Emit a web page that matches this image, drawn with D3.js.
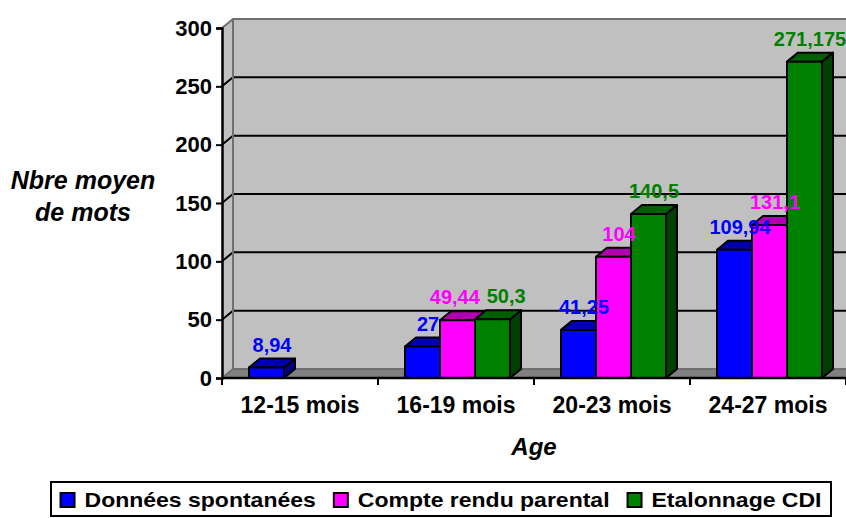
<!DOCTYPE html>
<html>
<head>
<meta charset="utf-8">
<script src="https://cdn.jsdelivr.net/npm/d3@7/dist/d3.min.js"></script>
<style>
  body { margin: 0; background: #fff; }
  svg { display: block; font-family: "Liberation Sans", Arial, sans-serif; font-weight: bold; }
</style>
</head>
<body>
<svg id="chart" width="846" height="518"></svg>
<script>
// chart data
var categories = ['12-15 mois', '16-19 mois', '20-23 mois', '24-27 mois'];
var seriesNames = ['Données spontanées', 'Compte rendu parental', 'Etalonnage CDI'];
var donneesSpontanees = [8.94, 27, 41.25, 109.94];
var compteRendu = [null, 49.44, 104, 131.1];
var etalonnage = [null, 50.3, 140.5, 271.175];
var yTicks = [0, 50, 100, 150, 200, 250, 300];

var seriesValues = [donneesSpontanees, compteRendu, etalonnage];
// front, top, side
var seriesColors = [
    ['#0000ff', '#0000b0', '#000080'],
    ['#ff00ff', '#b000b0', '#800080'],
    ['#008000', '#006000', '#004000']
];

var frLocale = d3.formatLocale({ decimal: ',', thousands: ' ', grouping: [3], currency: ['', ''] });
var fmt = frLocale.format('~g');

var svg = d3.select('#chart');
var depth = { x: 11, y: -9 };

var y = d3.scaleLinear().domain([0, 300]).range([378, 28]);
var x0 = d3.scaleBand().domain(categories).range([222, 846]);
var x1 = d3.scaleBand().domain(seriesNames).range([27, 132]);

var left = x0.range()[0], right = x0.range()[1];
var base = y(0);

// walls
svg.append('path')
    .attr('d', 'M' + left + ',' + y(300) + 'L' + (left + depth.x) + ',' + (y(300) + depth.y) +
        'L' + (left + depth.x) + ',' + (base + depth.y) + 'L' + left + ',' + base + 'Z')
    .attr('fill', '#c0c0c0');
svg.append('rect')
    .attr('x', left + depth.x)
    .attr('y', y(300) + depth.y)
    .attr('width', right - left)
    .attr('height', base - y(300))
    .attr('fill', '#c0c0c0');
svg.append('path')
    .attr('d', 'M' + left + ',' + base + 'L' + right + ',' + base + 'L' + (right + depth.x) + ',' + (base + depth.y) +
        'L' + (left + depth.x) + ',' + (base + depth.y) + 'Z')
    .attr('fill', '#808080');

// grid lines
svg.append('g').selectAll('path')
    .data(yTicks.slice(1, -1))
    .enter().append('path')
    .attr('d', function (d) {
        return 'M' + left + ',' + y(d) + 'L' + (left + depth.x) + ',' + (y(d) + depth.y) + 'L' + (right + depth.x) + ',' + (y(d) + depth.y);
    })
    .attr('fill', 'none')
    .attr('stroke', '#000')
    .attr('stroke-width', 2);

// wall edges
svg.append('path')
    .attr('d', 'M' + left + ',' + y(300) + 'L' + (left + depth.x) + ',' + (y(300) + depth.y) + 'L' + (right + depth.x) + ',' + (y(300) + depth.y) +
        'M' + (left + depth.x) + ',' + (y(300) + depth.y) + 'L' + (left + depth.x) + ',' + (base + depth.y) + 'L' + (right + depth.x) + ',' + (base + depth.y) +
        'M' + left + ',' + base + 'L' + (left + depth.x) + ',' + (base + depth.y))
    .attr('fill', 'none')
    .attr('stroke', '#707070')
    .attr('stroke-width', 2);

// bars
var bars = [];
categories.forEach(function (c, i) {
    seriesNames.forEach(function (s, j) {
        var v = seriesValues[j][i];
        if (v == null) return;
        bars.push({ cat: c, series: s, j: j, value: v });
    });
});

var barG = svg.append('g')
    .attr('stroke', '#000')
    .attr('stroke-width', 2)
    .attr('stroke-linejoin', 'round');

bars.forEach(function (b) {
    var x = x0(b.cat) + x1(b.series), w = x1.bandwidth(), yt = y(b.value);
    var g = barG.append('g');
    g.append('path')
        .attr('d', 'M' + (x + w) + ',' + yt + 'L' + (x + w + depth.x) + ',' + (yt + depth.y) +
            'L' + (x + w + depth.x) + ',' + (base + depth.y) + 'L' + (x + w) + ',' + base + 'Z')
        .attr('fill', seriesColors[b.j][2]);
    g.append('path')
        .attr('d', 'M' + x + ',' + yt + 'L' + (x + depth.x) + ',' + (yt + depth.y) +
            'L' + (x + w + depth.x) + ',' + (yt + depth.y) + 'L' + (x + w) + ',' + yt + 'Z')
        .attr('fill', seriesColors[b.j][1]);
    g.append('rect')
        .attr('x', x)
        .attr('y', yt)
        .attr('width', w)
        .attr('height', base - yt)
        .attr('fill', seriesColors[b.j][0]);
});

// data labels
var labels = svg.append('g').selectAll('text')
    .data(bars)
    .enter().append('text')
    .attr('x', function (d) { return x0(d.cat) + x1(d.series) + x1.bandwidth() / 2 + depth.x / 2; })
    .attr('y', function (d) { return y(d.value) + depth.y - 7; })
    .attr('text-anchor', 'middle')
    .attr('font-size', 20)
    .attr('fill', function (d) { return seriesColors[d.j][0]; })
    .text(function (d) { return fmt(d.value); });

// push apart labels of neighbouring bars that collide
var boxes = [];
labels.each(function (d) {
    var bb = this.getBBox();
    boxes.push({ el: this, d: d, x: bb.x, y: bb.y, w: bb.width, h: bb.height });
});
for (var k = 1; k < boxes.length; k++) {
    var a = boxes[k - 1], b = boxes[k];
    if (a.d.cat !== b.d.cat) continue;
    var vOverlap = a.y < b.y + b.h && b.y < a.y + a.h;
    var overlap = a.x + a.w + 6 - b.x;
    if (vOverlap && overlap > 0) {
        a.x -= overlap / 2;
        b.x += overlap / 2;
        d3.select(a.el).attr('x', +d3.select(a.el).attr('x') - overlap / 2);
        d3.select(b.el).attr('x', +d3.select(b.el).attr('x') + overlap / 2);
    }
}

// y axis
var yAxis = svg.append('g')
    .attr('transform', 'translate(' + left + ',0)')
    .call(d3.axisLeft(y).tickValues(yTicks).tickSize(6).tickPadding(4));
yAxis.selectAll('.domain').attr('stroke', '#000').attr('stroke-width', 2.5);
yAxis.selectAll('.tick line').attr('stroke', '#000').attr('stroke-width', 2);
yAxis.selectAll('.tick text')
    .attr('font-size', 22)
    .attr('font-family', '"Liberation Sans", Arial, sans-serif')
    .attr('font-weight', 'bold')
    .attr('fill', '#000');

// x axis
var xAxis = svg.append('g')
    .attr('transform', 'translate(0,' + base + ')')
    .call(d3.axisBottom(x0).tickSize(0).tickPadding(19));
xAxis.select('.domain').remove();
xAxis.selectAll('.tick text')
    .attr('font-size', 23)
    .attr('font-family', '"Liberation Sans", Arial, sans-serif')
    .attr('font-weight', 'bold')
    .attr('fill', '#000');
xAxis.append('line')
    .attr('x1', left).attr('x2', right)
    .attr('stroke', '#000').attr('stroke-width', 2.5);
xAxis.selectAll('.sep')
    .data(categories.map(function (c) { return x0(c); }).concat([right]))
    .enter().append('line')
    .attr('class', 'sep')
    .attr('x1', function (d) { return d; })
    .attr('x2', function (d) { return d; })
    .attr('y2', 7)
    .attr('stroke', '#000')
    .attr('stroke-width', 2);

// axis titles
var yTitle = svg.append('text')
    .attr('text-anchor', 'middle')
    .attr('font-size', 25)
    .attr('font-style', 'italic');
yTitle.append('tspan').attr('x', 83).attr('y', 189).text('Nbre moyen');
yTitle.append('tspan').attr('x', 83).attr('y', 221).text('de mots');

svg.append('text')
    .attr('x', 534)
    .attr('y', 455)
    .attr('text-anchor', 'middle')
    .attr('font-size', 24)
    .attr('font-style', 'italic')
    .text('Age');

// legend
var legendBox = { x: 51, y: 482, w: 780, h: 34 };
var stretch = 1.15;
var textOffset = 24;
svg.append('rect')
    .attr('x', legendBox.x)
    .attr('y', legendBox.y)
    .attr('width', legendBox.w)
    .attr('height', legendBox.h)
    .attr('fill', '#fff')
    .attr('stroke', '#000')
    .attr('stroke-width', 2);

var legend = svg.append('g');
var items = legend.selectAll('g')
    .data(seriesNames)
    .enter().append('g');
items.append('rect')
    .attr('y', legendBox.y + 11)
    .attr('width', 14)
    .attr('height', 14)
    .attr('fill', function (d, i) { return seriesColors[i][0]; })
    .attr('stroke', '#000')
    .attr('stroke-width', 2);
items.append('g')
    .attr('class', 'lbl')
    .attr('transform', 'translate(' + textOffset + ',' + (legendBox.y + 25) + ') scale(' + stretch + ',1)')
    .append('text')
    .attr('font-size', 20)
    .text(function (d) { return d; });

var widths = [];
items.each(function () {
    var t = d3.select(this).select('text').node();
    widths.push(textOffset + t.getComputedTextLength() * stretch);
});
var gap = 18;
var total = d3.sum(widths) + gap * (widths.length - 1);
var cursor = legendBox.x + (legendBox.w - total) / 2;
items.attr('transform', function (d, i) {
    var tx = cursor;
    cursor += widths[i] + gap;
    return 'translate(' + tx + ',0)';
});
</script>
</body>
</html>
